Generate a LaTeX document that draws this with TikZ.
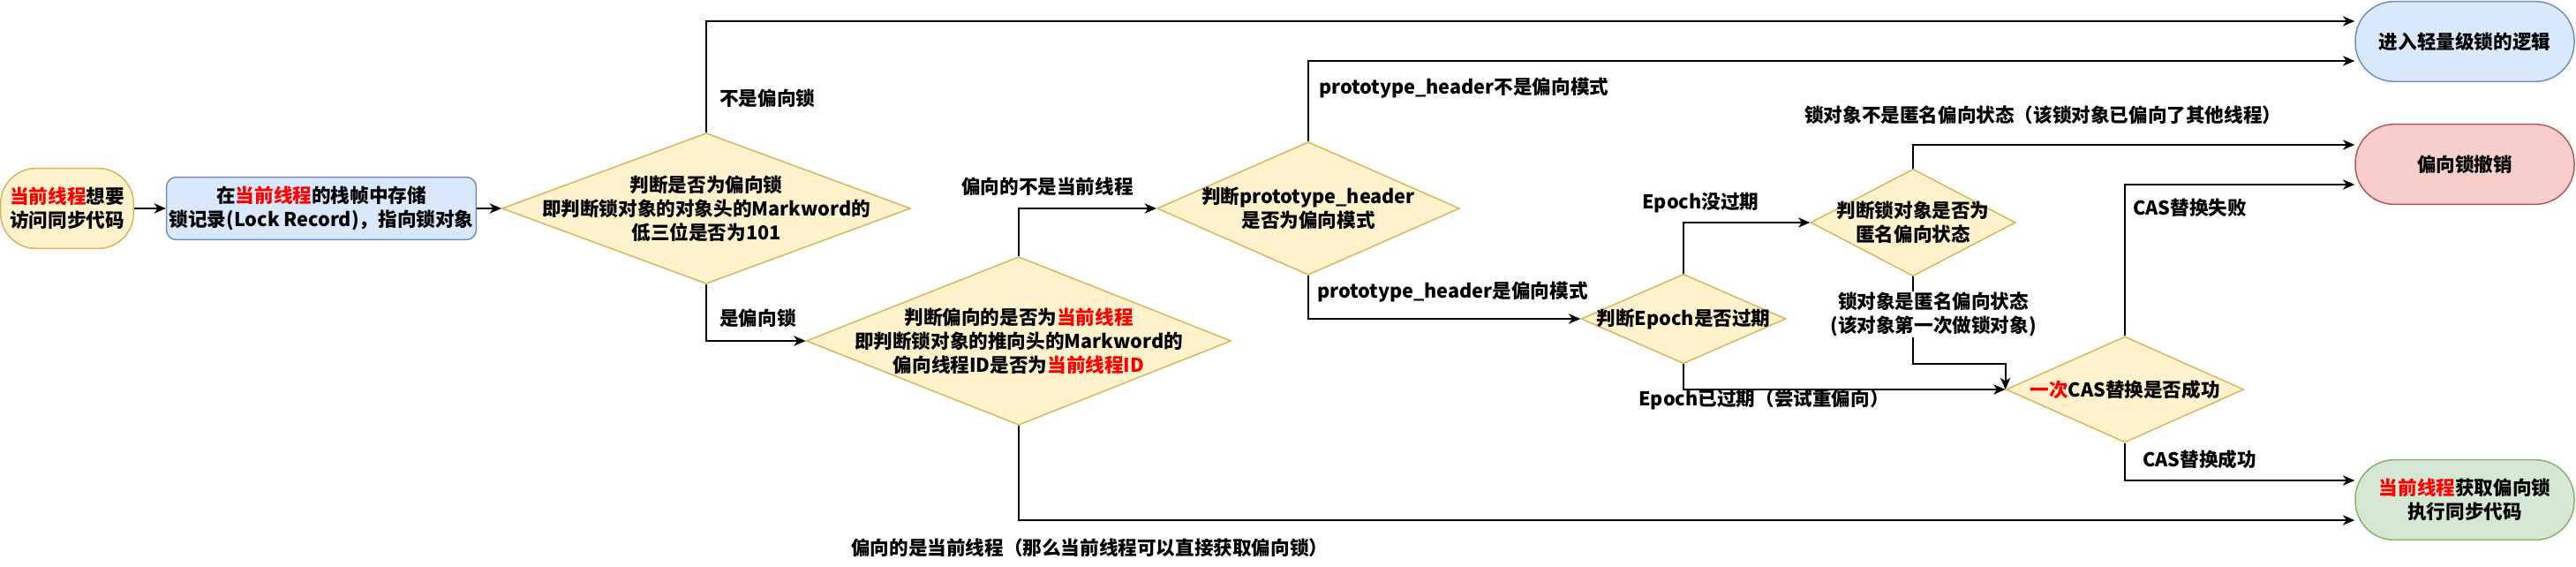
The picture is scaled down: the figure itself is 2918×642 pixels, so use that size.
\documentclass[tikz,border=0pt]{standalone}
\usepackage{fontspec}
\setmainfont{Noto Sans CJK SC}
\usetikzlibrary{shapes.geometric,arrows.meta,calc}
\definecolor{ylwfill}{HTML}{FFF2CC}
\definecolor{ylwline}{HTML}{D6B656}
\definecolor{bluefill}{HTML}{DAE8FC}
\definecolor{blueline}{HTML}{6C8EBF}
\definecolor{redfill}{HTML}{F8CECC}
\definecolor{redline}{HTML}{B85450}
\definecolor{grnfill}{HTML}{D5E8D4}
\definecolor{grnline}{HTML}{82B366}
\definecolor{hotred}{HTML}{FF0000}
\newcommand{\hot}[1]{\textcolor{hotred}{#1}}

\begin{document}
\begin{tikzpicture}[x=0.75pt,y=0.75pt,yscale=-1,xscale=1,
    every node/.style={font=\fontsize{16.2pt}{20.25pt}\selectfont\bfseries, inner sep=0.75pt, align=center},
    decide/.style={shape=diamond, draw=ylwline, fill=ylwfill, line width=1.1pt, inner sep=0pt},
    endbox/.style={rectangle, rounded corners=33pt, line width=1.1pt, minimum width=186pt, minimum height=68pt},
    flow/.style={draw, line width=1.5pt, -{Stealth[length=10pt,width=8.5pt,inset=3pt]}},
    lbl/.style={anchor=west}]
    \useasboundingbox (0,0) rectangle (2918,642);

    % Start and first step
    \node[endbox, rounded corners=30pt, draw=ylwline, fill=ylwfill, minimum width=113pt] (start) at (76,236) {\hot{当前线程}想要\\访问同步代码};
    \node[rectangle, rounded corners=8pt, draw=blueline, fill=bluefill, line width=1.1pt, minimum width=263pt, minimum height=53pt] (store) at (364,236) {在\hot{当前线程}的栈帧中存储\\锁记录(Lock Record)，指向锁对象};

    % Decisions
    \node[decide, minimum width=347pt, minimum height=128pt, label={center:{判断是否为偏向锁\\即判断锁对象的对象头的Markword的\\低三位是否为101}}] (isbias) at (800,236) {};
    \node[decide, minimum width=361pt, minimum height=143pt, label={center:{判断偏向的是否为\hot{当前线程}\\即判断锁对象的推向头的Markword的\\偏向线程ID是否为\hot{当前线程ID}}}] (isself) at (1154,386) {};
    \node[decide, minimum width=257pt, minimum height=113pt, label={center:{判断prototype\_header\\是否为偏向模式}}] (proto) at (1482,236) {};
    \node[decide, minimum width=174pt, minimum height=76pt, label={center:{判断Epoch是否过期}}] (epoch) at (1907,361) {};
    \node[decide, minimum width=174pt, minimum height=91pt, label={center:{判断锁对象是否为\\匿名偏向状态}}] (anon) at (2167,252) {};
    \node[decide, minimum width=202pt, minimum height=90pt, label={center:{\hot{一次}CAS替换是否成功}}] (cas) at (2407,441) {};

    % Outcomes
    \node[endbox, draw=blueline, fill=bluefill] (light) at (2792,47) {进入轻量级锁的逻辑};
    \node[endbox, draw=redline, fill=redfill] (revoke) at (2792,186) {偏向锁撤销};
    \node[endbox, draw=grnline, fill=grnfill] (run) at (2792,566) {\hot{当前线程}获取偏向锁\\执行同步代码};

    % Flow lines
    \draw[flow] (start) -- (store);
    \draw[flow] (store) -- (isbias);
    \draw[flow] (isbias.north) |- ($(light.west)+(0,-23)$);
    \draw[flow] (isbias.south) |- (isself.west);
    \draw[flow] (isself.north) |- (proto.west);
    \draw[flow] (isself.south) |- ($(run.west)+(0,23)$);
    \draw[flow] (proto.north) |- ($(light.west)+(0,22)$);
    \draw[flow] (proto.south) |- (epoch.west);
    \draw[flow] (epoch.north) |- (anon.west);
    \draw[flow] (epoch.south) |- (cas.west);
    \draw[flow] (anon.south) |- ($(cas.west)+(0,-29)$) -- (cas.west);
    \draw[flow] (anon.north) |- ($(revoke.west)+(0,-22)$);
    \draw[flow] (cas.north) |- ($(revoke.west)+(0,23)$);
    \draw[flow] (cas.south) |- ($(run.west)+(0,-22)$);

    % Text Node
    \node[lbl] (notbias) at (814,111) {不是偏向锁};
    \node[lbl] (yesbias) at (814,360) {是偏向锁};
    \node[lbl] (notself) at (1088,211) {偏向的不是当前线程};
    \node[lbl] (yesself) at (963,620) {偏向的是当前线程（那么当前线程可以直接获取偏向锁）};
    \node[lbl] (protono) at (1493,100) {prototype\_header不是偏向模式};
    \node[lbl] (protoyes) at (1491,331) {prototype\_header是偏向模式};
    \node[lbl] (epochok) at (1859,230) {Epoch没过期};
    \node[lbl] (epochold) at (1855,452) {Epoch已过期（尝试重偏向）};
    \node[lbl] (anonno) at (2043,130) {锁对象不是匿名偏向状态（该锁对象已偏向了其他线程）};
    \node[fill=white] (anonyes) at (2190,356) {锁对象是匿名偏向状态\\(该对象第一次做锁对象)};
    \node[lbl] (casfail) at (2415,235) {CAS替换失败};
    \node[lbl] (casok) at (2426,520) {CAS替换成功};
\end{tikzpicture}
\end{document}
